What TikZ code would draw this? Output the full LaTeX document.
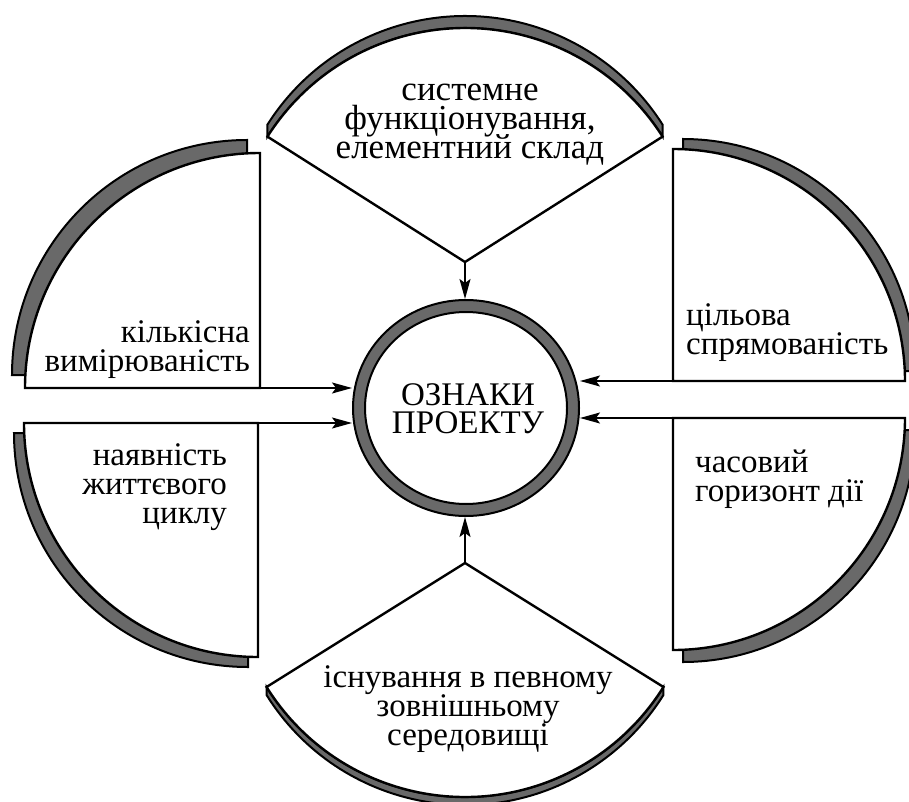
\documentclass[tikz,border=0pt]{standalone}
\usepackage{fontspec}
\setmainfont{Liberation Serif}
\usetikzlibrary{shapes.geometric,arrows.meta}
\definecolor{bandgray}{RGB}{105,105,105}
\newcommand\mytightlines{\lineskiplimit=-50pt\relax\lineskip=0pt\relax}
\newcommand\sidefont{\fontsize{33}{29}\selectfont\mytightlines}
\newcommand\topfont{\fontsize{35}{29}\selectfont\mytightlines}
\newcommand\corefont{\fontsize{33}{28}\selectfont\mytightlines}
\begin{document}
\begin{tikzpicture}[x=1pt,y=-1pt,
  band/.style={fill=bandgray, draw=black, line width=2pt, line join=miter},
  piece/.style={fill=white, draw=black, line width=2.4pt, line join=miter},
  arr/.style={line width=1.6pt, -{Stealth[length=20pt,width=11pt,inset=4pt]}},
  lbl/.style={font=\sidefont, inner sep=0pt},
  toplbl/.style={font=\topfont, inner sep=0pt},
  ringstyle/.style={ellipse, draw=black, line width=2pt, inner sep=0pt}]
\useasboundingbox (0,0) rectangle (909,802);
\clip (0,0) rectangle (909,802);

% ---- named corner points (connector start points)
\coordinate (tlc) at (260,388);
\coordinate (blc) at (258,423);
\coordinate (trc) at (673,381);
\coordinate (brc) at (673,418);
\coordinate (tapex) at (465,262);
\coordinate (bapex) at (465,563);

% ---- top-left quarter
\path[band] (247,375) -- (247,140) arc[start angle=270,end angle=180,radius=235] -- cycle;
\path[piece] (tlc) -- (260,153) arc[start angle=270,end angle=180,radius=235] -- cycle;

% ---- bottom-left quarter
\path[band] (248,433) -- (14,433) arc[start angle=180,end angle=90,radius=234] -- cycle;
\path[piece] (blc) -- (24,423) arc[start angle=180,end angle=90,radius=234] -- cycle;

% ---- top-right quarter
\path[band] (683,371) -- (683,139) arc[start angle=270,end angle=360,radius=232] -- cycle;
\path[piece] (trc) -- (673,149) arc[start angle=270,end angle=360,radius=232] -- cycle;

% ---- bottom-right quarter
\path[band] (683,430) -- (683,662) arc[start angle=90,end angle=0,radius=232] -- cycle;
\path[piece] (brc) -- (673,650) arc[start angle=90,end angle=0,radius=232] -- cycle;

% ---- top sector
\path[band] ([shift={(212.4:234)}]465,250) arc[start angle=212.4,end angle=327.6,radius=234]
   -- ([shift={(327.6:234)}]465,262) arc[start angle=327.6,end angle=212.4,radius=234] -- cycle;
\path[piece] (tapex) -- ++(212.4:234) arc[start angle=212.4,end angle=327.6,radius=234] -- cycle;

% ---- bottom sector
\path[band] ([shift={(148:234)}]465,571) arc[start angle=148,end angle=32,radius=234]
   -- ([shift={(32:234)}]465,563) arc[start angle=32,end angle=148,radius=234] -- cycle;
\path[piece] (bapex) -- ++(148:234) arc[start angle=148,end angle=32,radius=234] -- cycle;

% ---- central ring
\node[ringstyle, fill=bandgray, minimum width=226pt, minimum height=216pt] (ring) at (466,408) {};
\node[ringstyle, fill=white, minimum width=202pt, minimum height=192pt] (core) at (466,408) {};

% ---- connectors
\draw[arr] (tlc) -- (tlc -| ring.west);
\draw[arr] (blc) -- (blc -| ring.west);
\draw[arr] (trc) -- (trc -| ring.east);
\draw[arr] (brc) -- (brc -| ring.east);
\draw[arr] (tapex) -- (tapex |- ring.north);
\draw[arr] (bapex) -- (bapex |- ring.south);

% ---- texts
\node[inner sep=0pt, font=\corefont, align=center, anchor=north] (ctext) at (468,383)
  {\rule{0pt}{22pt}ОЗНАКИ\\ПРОЕКТУ};
\node[toplbl, align=center, anchor=north] (ttext) at (470,75)
  {\rule{0pt}{25pt}системне\\функціонування,\\елементний склад};
\node[lbl, align=right, anchor=north east] (tltext) at (250,318)
  {\rule{0pt}{24pt}кількісна\\вимірюваність};
\node[lbl, align=right, anchor=north east] (bltext) at (227,441)
  {\rule{0pt}{24pt}наявність\\життєвого\\циклу};
\node[lbl, align=left, anchor=north west] (trtext) at (686,301)
  {\rule{0pt}{24pt}цільова\\спрямованість};
\node[lbl, align=left, anchor=north west] (brtext) at (695,448)
  {\rule{0pt}{24pt}часовий\\горизонт дії};
\node[lbl, align=center, anchor=north] (btext) at (468,663)
  {\rule{0pt}{24pt}існування в певному\\зовнішньому\\середовищі};
\end{tikzpicture}
\end{document}
